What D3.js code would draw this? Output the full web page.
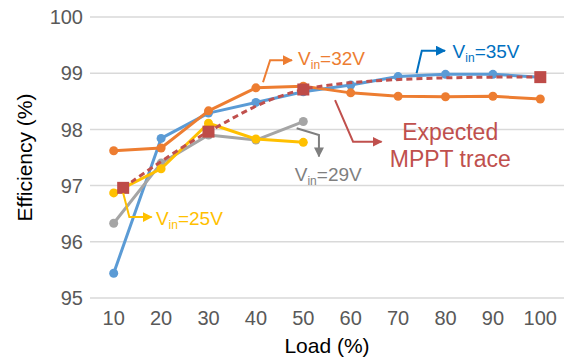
<!DOCTYPE html>
<html>
<head>
<meta charset="utf-8">
<script src="https://cdn.jsdelivr.net/npm/d3@7"></script>
<style>
  body { margin: 0; background: #fff; }
  svg { display: block; font-family: "Liberation Sans", Arial, sans-serif; }
</style>
</head>
<body>
<svg width="572" height="361"></svg>
<script>
// data
var loads = [10, 20, 30, 40, 50, 60, 70, 80, 90, 100];
var vin35 = [95.44, 97.84, 98.29, 98.48, 98.67, 98.79, 98.94, 98.98, 98.98, 98.93];
var vin32 = [97.62, 97.67, 98.33, 98.74, 98.77, 98.65, 98.59, 98.58, 98.59, 98.54];
var vin29 = [96.33, 97.40, 97.90, 97.81, 98.14];
var vin25 = [96.87, 97.30, 98.11, 97.83, 97.77];
var mpptLoad = [12, 30, 50, 100];
var mpptEff = [96.96, 97.96, 98.71, 98.93];
var yTicks = [95, 96, 97, 98, 99, 100];

var svg = d3.select("svg");

var x = d3.scaleLinear().domain([5, 105]).range([90, 564]);
var y = d3.scaleLinear().domain([95, 100]).range([298, 17]);

// gridlines
svg.append("g")
    .selectAll("line")
    .data(yTicks)
    .enter().append("line")
        .attr("x1", x(5)).attr("x2", x(105))
        .attr("y1", function (d) { return y(d); })
        .attr("y2", function (d) { return y(d); })
        .attr("stroke", "#d9d9d9")
        .attr("stroke-width", 1.5);

// tick labels
svg.append("g")
    .selectAll("text")
    .data(yTicks)
    .enter().append("text")
        .attr("x", 83)
        .attr("y", function (d) { return y(d); })
        .attr("dy", "0.36em")
        .attr("text-anchor", "end")
        .attr("fill", "#595959")
        .attr("font-size", 20)
        .text(function (d) { return d; });

svg.append("g")
    .selectAll("text")
    .data(loads)
    .enter().append("text")
        .attr("x", function (d) { return x(d); })
        .attr("y", 325)
        .attr("text-anchor", "middle")
        .attr("fill", "#595959")
        .attr("font-size", 20)
        .text(function (d) { return d; });

svg.append("text")
    .attr("x", x(55)).attr("y", 353)
    .attr("text-anchor", "middle")
    .attr("font-size", 21)
    .attr("fill", "#000")
    .text("Load (%)");

svg.append("text")
    .attr("transform", "translate(32," + y(97.5) + ") rotate(-90)")
    .attr("text-anchor", "middle")
    .attr("font-size", 21)
    .attr("fill", "#000")
    .text("Efficiency (%)");

// series
var series = [
    { vals: vin35, color: "#5b9bd5" },
    { vals: vin32, color: "#ed7d31" },
    { vals: vin29, color: "#a5a5a5" },
    { vals: vin25, color: "#ffc000" }
];

var line = d3.line()
    .x(function (d) { return x(d[0]); })
    .y(function (d) { return y(d[1]); });

series.forEach(function (s) {
    var pts = s.vals.map(function (v, i) { return [loads[i], v]; });
    var g = svg.append("g");
    g.append("path")
        .attr("d", line(pts))
        .attr("fill", "none")
        .attr("stroke", s.color)
        .attr("stroke-width", 3)
        .attr("stroke-linejoin", "round");
    g.selectAll("circle")
        .data(pts)
        .enter().append("circle")
            .attr("cx", function (d) { return x(d[0]); })
            .attr("cy", function (d) { return y(d[1]); })
            .attr("r", 4.5)
            .attr("fill", s.color);
});

// expected MPPT trace
var mppt = mpptLoad.map(function (l, i) { return [l, mpptEff[i]]; });
svg.append("path")
    .attr("d", line.curve(d3.curveCatmullRom.alpha(0.5))(mppt))
    .attr("fill", "none")
    .attr("stroke", "#c0504d")
    .attr("stroke-width", 3)
    .attr("stroke-dasharray", "6,4");

svg.append("g")
    .selectAll("rect")
    .data(mppt)
    .enter().append("rect")
        .attr("x", function (d) { return x(d[0]) - 6; })
        .attr("y", function (d) { return y(d[1]) - 6; })
        .attr("width", 12).attr("height", 12)
        .attr("fill", "#be4b48");

// annotations (data coords)
var arrows = [
    { pts: [[41.5, 98.84], [43.0, 99.23], [47.6, 99.23]], color: "#ed7d31" },
    { pts: [[73.9, 99.00], [75.0, 99.40], [79.9, 99.40]], color: "#0070c0" },
    { pts: [[56.7, 98.52], [60.5, 97.78], [66.5, 97.78]], color: "#c0504d" },
    { pts: [[48.6, 98.02], [53.3, 97.90], [53.3, 97.52]], color: "#7f7f7f" },
    { pts: [[12.0, 96.87], [13.3, 96.44], [18.0, 96.44]], color: "#ffc000" }
];

var defs = svg.append("defs");
arrows.forEach(function (a, i) {
    defs.append("marker")
        .attr("id", "ah" + i)
        .attr("viewBox", "0 0 10 10")
        .attr("refX", 9).attr("refY", 5)
        .attr("markerWidth", 10).attr("markerHeight", 10)
        .attr("markerUnits", "userSpaceOnUse")
        .attr("orient", "auto")
        .append("path")
            .attr("d", "M0,0L10,5L0,10Z")
            .attr("fill", a.color);
    svg.append("path")
        .attr("d", d3.line().x(function (d) { return x(d[0]); }).y(function (d) { return y(d[1]); })(a.pts))
        .attr("fill", "none")
        .attr("stroke", a.color)
        .attr("stroke-width", 2)
        .attr("marker-end", "url(#ah" + i + ")");
});

var vinLabels = [
    { load: 48.9, eff: 99.15, v: "32V", color: "#ed7d31" },
    { load: 81.5, eff: 99.27, v: "35V", color: "#0070c0" },
    { load: 48.2, eff: 97.08, v: "29V", color: "#7f7f7f" },
    { load: 18.9, eff: 96.30, v: "25V", color: "#ffc000" }
];

vinLabels.forEach(function (l) {
    var t = svg.append("text")
        .attr("x", x(l.load)).attr("y", y(l.eff))
        .attr("font-size", 19)
        .attr("fill", l.color);
    t.append("tspan").text("V");
    t.append("tspan").attr("font-size", 12).attr("dy", 4).text("in");
    t.append("tspan").attr("dy", -4).text("=" + l.v);
});

svg.append("text")
    .attr("x", x(81)).attr("y", y(97.81))
    .attr("text-anchor", "middle")
    .attr("font-size", 23)
    .attr("fill", "#c0504d")
    .text("Expected");
svg.append("text")
    .attr("x", x(81)).attr("y", y(97.33))
    .attr("text-anchor", "middle")
    .attr("font-size", 23)
    .attr("fill", "#c0504d")
    .text("MPPT trace");
</script>
</body>
</html>
